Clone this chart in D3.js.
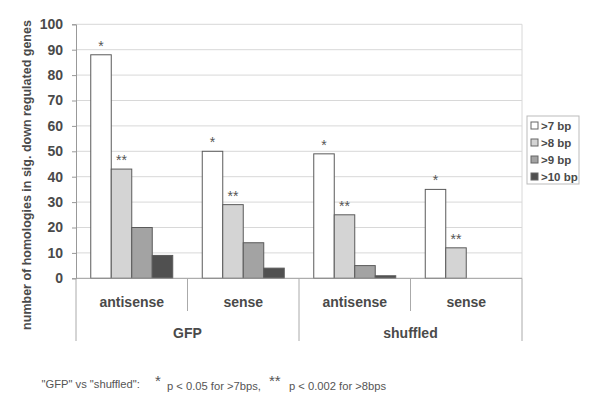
<!DOCTYPE html>
<html><head><meta charset="utf-8">
<script src="https://cdn.jsdelivr.net/npm/d3@7"></script>
<style>body{margin:0;background:#fff;}svg{display:block;font-family:"Liberation Sans",Arial,sans-serif;}</style>
</head><body><svg id="c" width="600" height="412"></svg>
<script>
const groups = ["GFP", "shuffled"];
const categories = ["antisense", "sense", "antisense", "sense"];
const categoryGroup = ["GFP", "GFP", "shuffled", "shuffled"];
const seriesNames = [">7 bp", ">8 bp", ">9 bp", ">10 bp"];
const s7 = [88, 50, 49, 35];
const s8 = [43, 29, 25, 12];
const s9 = [20, 14, 5, 0];
const s10 = [9, 4, 1, 0];
const stars7 = ["*", "*", "*", "*"];
const stars8 = ["**", "**", "**", "**"];
const yTicks = [0,10,20,30,40,50,60,70,80,90,100];
const colors = ["#ffffff", "#d4d4d4", "#a3a3a3", "#505050"];

const series = [s7, s8, s9, s10];
const svg = d3.select("#c");
const L = 76, R = 522, T = 24.3, B = 278.3;
const y = d3.scaleLinear().domain([0,100]).range([B, T]);
const xc = d3.scaleBand().domain(d3.range(categories.length)).range([L, R]).paddingInner(0).paddingOuter(0);
const xs = d3.scaleBand().domain(d3.range(series.length)).range([0, xc.bandwidth()]).paddingInner(0).paddingOuter(0.72);

// gridlines
svg.append("g").selectAll("line").data(yTicks.filter(d=>d>0)).join("line")
  .attr("x1", L).attr("x2", R).attr("y1", d=>y(d)).attr("y2", d=>y(d))
  .attr("stroke", "#d8d8d8").attr("stroke-width", 1);
svg.append("line").attr("x1", R).attr("x2", R).attr("y1", T).attr("y2", B).attr("stroke", "#d8d8d8");

// y axis
const ya = svg.append("g").attr("transform", `translate(${L},0)`)
  .call(d3.axisLeft(y).tickValues(yTicks).tickSize(4).tickPadding(9));
ya.select(".domain").attr("stroke", "#999");
ya.selectAll(".tick line").attr("stroke", "#999");
ya.selectAll("text").attr("font-size", 14).attr("font-weight", "bold").attr("fill", "#4a4a4a")
  .attr("font-family", "Liberation Sans, Arial, sans-serif");

// bars
series.forEach((vals, si) => {
  svg.append("g").selectAll("rect").data(vals).join("rect")
    .attr("x", (d,i)=>xc(i)+xs(si)).attr("width", xs.bandwidth())
    .attr("y", d=>y(d)).attr("height", d=>B - y(d))
    .attr("fill", colors[si]).attr("stroke", d=> d>0 ? "#5a5a5a" : "none").attr("stroke-width", 1);
});

// stars
[[s7, stars7, 0], [s8, stars8, 1]].forEach(([vals, st, si]) => {
  svg.append("g").selectAll("text").data(vals).join("text")
    .attr("x", (d,i)=>xc(i)+xs(si)+xs.bandwidth()/2)
    .attr("y", d=>y(d)-4)
    .attr("text-anchor", "middle").attr("font-size", 14).attr("fill", "#555")
    .text((d,i)=>st[i]);
});

// baseline
svg.append("line").attr("x1", L).attr("x2", R).attr("y1", B).attr("y2", B).attr("stroke", "#999");

// category dividers
const divs = d3.range(categories.length + 1);
svg.append("g").selectAll("line").data(divs).join("line")
  .attr("x1", i=> i<categories.length ? xc(i) : R).attr("x2", i=> i<categories.length ? xc(i) : R)
  .attr("y1", B).attr("y2", i => (i % 2 === 0) ? 341 : 311)
  .attr("stroke", "#aaa");

svg.append("g").selectAll("text").data(categories).join("text")
  .attr("x", (d,i)=>xc(i)+xc.bandwidth()/2).attr("y", 307)
  .attr("text-anchor", "middle").attr("font-size", 14).attr("font-weight", "bold").attr("fill", "#4a4a4a")
  .text(d=>d);

svg.append("g").selectAll("text").data(groups).join("text")
  .attr("x", (g)=>{ const idx = categoryGroup.map((c,i)=>c===g?i:-1).filter(i=>i>=0);
      return (xc(idx[0]) + xc(idx[idx.length-1]) + xc.bandwidth())/2; })
  .attr("y", 338)
  .attr("text-anchor", "middle").attr("font-size", 14).attr("font-weight", "bold").attr("fill", "#4a4a4a")
  .text(d=>d);

// y title
svg.append("text").attr("transform", "translate(31,175) rotate(-90)")
  .attr("text-anchor", "middle").attr("font-size", 12.5).attr("font-weight", "bold").attr("fill", "#4a4a4a")
  .text("number of homologies in sig. down regulated genes");

// legend
const lg = svg.append("g").attr("transform", "translate(527,116)");
lg.append("rect").attr("width", 52).attr("height", 68).attr("fill", "#fff").attr("stroke", "#bbb");
seriesNames.forEach((n, i) => {
  lg.append("rect").attr("x", 4).attr("y", 6 + i*17).attr("width", 7).attr("height", 7)
    .attr("fill", colors[i]).attr("stroke", "#666");
  lg.append("text").attr("x", 14).attr("y", 14 + i*17).attr("font-size", 11.5).attr("font-weight", "bold")
    .attr("fill", "#4a4a4a").text(n);
});

// footnote
const fg = svg.append("g").attr("font-size", 11.2).attr("fill", "#555");
fg.append("text").attr("x", 41.5).attr("y", 388).text('"GFP" vs "shuffled":');
fg.append("text").attr("x", 155).attr("y", 386).attr("font-size", 15).text("*");
fg.append("text").attr("x", 167).attr("y", 390).text("p < 0.05 for >7bps,");
fg.append("text").attr("x", 269).attr("y", 386).attr("font-size", 15).text("**");
fg.append("text").attr("x", 289).attr("y", 390).text("p < 0.002 for >8bps");
</script></body></html>
